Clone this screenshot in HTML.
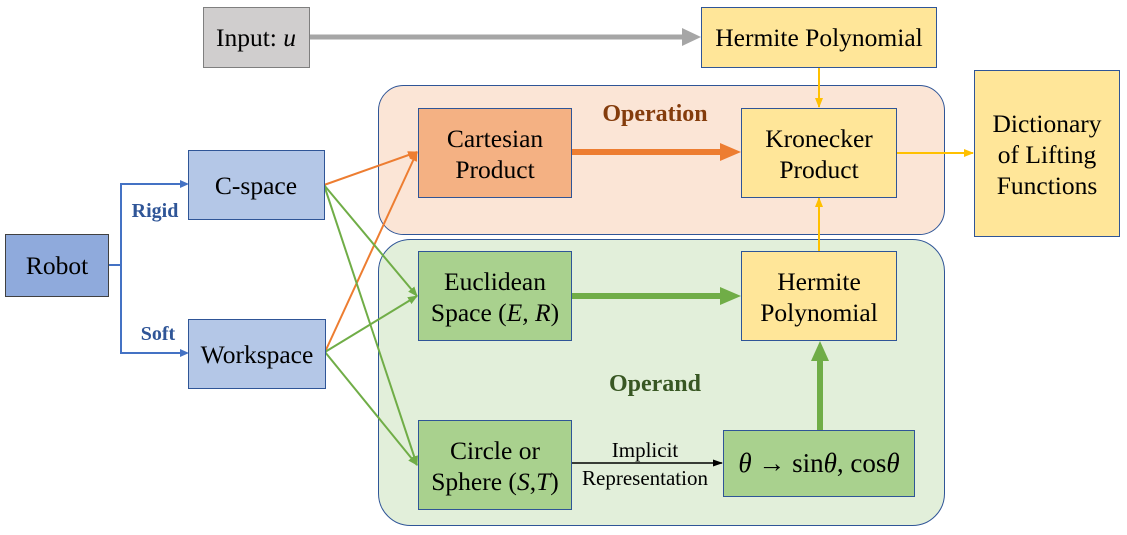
<!DOCTYPE html>
<html><head><meta charset="utf-8"><style>
html,body{margin:0;padding:0;background:#fff;}
svg{display:block;}
text{font-family:"Liberation Serif",serif;}
</style></head><body>
<svg width="1127" height="535" viewBox="0 0 1127 535" font-family="Liberation Serif, serif">
<defs>
<marker id="mo" markerWidth="10" markerHeight="10" refX="9" refY="5" orient="auto" markerUnits="userSpaceOnUse"><path d="M0,1 L10,5 L0,9 z" fill="#ed7d31"/></marker>
<marker id="mg" markerWidth="10" markerHeight="10" refX="9" refY="5" orient="auto" markerUnits="userSpaceOnUse"><path d="M0,1 L10,5 L0,9 z" fill="#70ad47"/></marker>
<marker id="my" markerWidth="10" markerHeight="10" refX="9" refY="5" orient="auto" markerUnits="userSpaceOnUse"><path d="M0,1 L10,5 L0,9 z" fill="#ffc000"/></marker>
<marker id="mk" markerWidth="10" markerHeight="10" refX="9" refY="5" orient="auto" markerUnits="userSpaceOnUse"><path d="M0,1.5 L10,5 L0,8.5 z" fill="#000"/></marker>
</defs>
<rect x="378.5" y="85.5" width="566" height="149" rx="25" fill="#fbe5d6" stroke="#2f5597"/>
<rect x="378.5" y="239.5" width="566" height="286" rx="32" fill="#e2efda" stroke="#2f5597"/>
<text x="655" y="121" text-anchor="middle" font-size="24" font-weight="bold" fill="#843c0c">Operation</text>
<text x="655" y="391" text-anchor="middle" font-size="24" font-weight="bold" fill="#385723">Operand</text>

<line x1="309" y1="37" x2="684" y2="37" stroke="#a6a6a6" stroke-width="5"/>
<path d="M682,28 L701,37 L682,46 z" fill="#a6a6a6"/>

<polyline points="108,265 121,265" fill="none" stroke="#4472c4" stroke-width="2"/>
<polyline points="187,184 121,184 121,353 187,353" fill="none" stroke="#4472c4" stroke-width="2"/>
<path d="M180,180 L189,184 L180,188 z" fill="#4472c4"/>
<path d="M180,349 L189,353 L180,357 z" fill="#4472c4"/>
<text x="155" y="217" text-anchor="middle" font-size="20" font-weight="bold" fill="#2f5597">Rigid</text>
<text x="158" y="340" text-anchor="middle" font-size="20" font-weight="bold" fill="#2f5597">Soft</text>

<line x1="324" y1="185" x2="417" y2="152" stroke="#ed7d31" stroke-width="2" marker-end="url(#mo)"/>
<line x1="325" y1="352" x2="417" y2="152" stroke="#ed7d31" stroke-width="2" marker-end="url(#mo)"/>
<line x1="324" y1="185" x2="417" y2="296" stroke="#70ad47" stroke-width="2" marker-end="url(#mg)"/>
<line x1="324" y1="185" x2="417" y2="465" stroke="#70ad47" stroke-width="2" marker-end="url(#mg)"/>
<line x1="325" y1="352" x2="417" y2="296" stroke="#70ad47" stroke-width="2" marker-end="url(#mg)"/>
<line x1="325" y1="352" x2="417" y2="465" stroke="#70ad47" stroke-width="2" marker-end="url(#mg)"/>

<line x1="571" y1="152" x2="724" y2="152" stroke="#ed7d31" stroke-width="6"/>
<path d="M720,143 L741,152 L720,161 z" fill="#ed7d31"/>
<line x1="571" y1="296" x2="724" y2="296" stroke="#70ad47" stroke-width="6"/>
<path d="M720,287 L741,296 L720,305 z" fill="#70ad47"/>
<line x1="820" y1="430" x2="820" y2="358" stroke="#70ad47" stroke-width="6"/>
<path d="M811,361 L820,341 L829,361 z" fill="#70ad47"/>

<line x1="819" y1="67" x2="819" y2="107" stroke="#ffc000" stroke-width="2" marker-end="url(#my)"/>
<line x1="819" y1="251" x2="819" y2="198" stroke="#ffc000" stroke-width="2" marker-end="url(#my)"/>
<line x1="896" y1="153" x2="973" y2="153" stroke="#ffc000" stroke-width="2" marker-end="url(#my)"/>

<line x1="571" y1="463" x2="722" y2="463" stroke="#000" stroke-width="1.5" marker-end="url(#mk)"/>
<text x="645" y="457" text-anchor="middle" font-size="21">Implicit</text>
<text x="645" y="485" text-anchor="middle" font-size="21">Representation</text>

<g stroke="#2f5597" stroke-width="1">
<rect x="203.5" y="7.5" width="106" height="60" fill="#d0cece" stroke="#7f7f7f"/>
<rect x="701.5" y="7.5" width="235" height="60" fill="#ffe699"/>
<rect x="5.5" y="234.5" width="103" height="62" fill="#8faadc" stroke="#404040"/>
<rect x="188.5" y="150.5" width="136" height="69" fill="#b4c7e7"/>
<rect x="188.5" y="319.5" width="137" height="69" fill="#b4c7e7"/>
<rect x="418.5" y="108.5" width="153" height="89" fill="#f4b183"/>
<rect x="741.5" y="108.5" width="155" height="89" fill="#ffe699"/>
<rect x="974.5" y="70.5" width="145" height="166" fill="#ffe699"/>
<rect x="418.5" y="251.5" width="153" height="89" fill="#a9d18e"/>
<rect x="741.5" y="251.5" width="155" height="89" fill="#ffe699"/>
<rect x="418.5" y="420.5" width="153" height="89" fill="#a9d18e"/>
<rect x="723.5" y="430.5" width="191" height="66" fill="#a9d18e"/>
</g>
<g font-size="25.5" text-anchor="middle" fill="#000">
<text x="256" y="46">Input: <tspan font-style="italic">u</tspan></text>
<text x="819" y="46">Hermite Polynomial</text>
<text x="57" y="274">Robot</text>
<text x="256" y="194">C-space</text>
<text x="257" y="363">Workspace</text>
<text x="495" y="147">Cartesian</text>
<text x="495" y="178">Product</text>
<text x="819" y="147">Kronecker</text>
<text x="819" y="178">Product</text>
<text x="1047" y="132">Dictionary</text>
<text x="1047" y="163">of Lifting</text>
<text x="1047" y="194">Functions</text>
<text x="495" y="290">Euclidean</text>
<text x="495" y="321">Space (<tspan font-style="italic">E, R</tspan>)</text>
<text x="819" y="290">Hermite</text>
<text x="819" y="321">Polynomial</text>
<text x="495" y="459">Circle or</text>
<text x="495" y="490">Sphere (<tspan font-style="italic">S</tspan>,<tspan font-style="italic">T</tspan>)</text>
<text x="819" y="472" font-size="27"><tspan font-style="italic">θ</tspan> → sin<tspan font-style="italic">θ</tspan>, cos<tspan font-style="italic">θ</tspan></text>
</g>
</svg>
</body></html>
